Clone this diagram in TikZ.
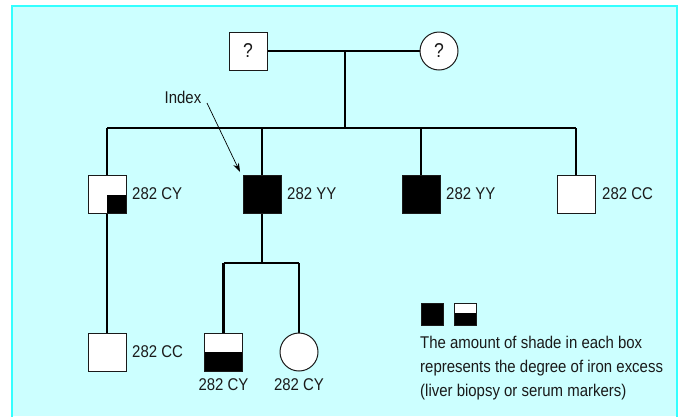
\documentclass[tikz,border=0pt]{standalone}
\usepackage{fontspec}
\setmainfont{Liberation Sans}[FakeStretch=0.88]
\usetikzlibrary{arrows.meta}
\definecolor{bgfill}{HTML}{CCFFFF}
\definecolor{bgedge}{HTML}{33FFFF}
\definecolor{ink}{HTML}{1A1A1A}
\begin{document}
\begin{tikzpicture}[x=1pt,y=-1pt,
  every node/.style={font=\fontsize{17}{24}\selectfont, text=ink},
  person/.style={draw=ink, line width=1pt, fill=white, inner sep=0pt},
  male/.style={person, rectangle, minimum size=38pt},
  female/.style={person, circle, minimum size=38pt},
  unknown/.style={font=\fontsize{20}{24}\selectfont},
  affected/.style={fill=black},
  quarter/.style={path picture={\fill[black] (path picture bounding box.center) rectangle (path picture bounding box.south east);}},
  halfshade/.style={path picture={\fill[black] (path picture bounding box.west) rectangle (path picture bounding box.south east);}},
  line/.style={draw=black, line width=2.6pt},
  lbl/.style={anchor=base west, inner sep=0pt},
  lblb/.style={anchor=base, inner sep=0pt}
]
\useasboundingbox (0,0) rectangle (682,416);
\fill[bgfill] (12,6) rectangle (677,416);
\draw[bgedge, line width=2pt] (12,417) -- (12,6) -- (677,6) -- (677,417);

% parents
\coordinate (pm) at (345,51);
\coordinate (sl) at (345,128);
\draw[line] (248,51) -- (439,51);
\draw[line] (pm) -- (sl);
\node[male, unknown] (fa) at (248,51) {?};
\node[female, unknown] (mo) at (439,51) {?};

% generation II
\coordinate (s1) at (107,128);
\coordinate (s2) at (262,128);
\coordinate (s3) at (421,128);
\coordinate (s4) at (576,128);
\coordinate (t0) at (262,263);
\coordinate (t1) at (223.5,263);
\coordinate (t2) at (299,263);
\draw[line] (s1) -- (s4);
\draw[line] (s1) -- (107,352);
\draw[line] (s2) -- (t0);
\draw[line] (s3) -- (421,194);
\draw[line] (s4) -- (576,194);
\draw[line] (t1) -- (t2);
\draw[line] (t1) -- (223.5,352);
\draw[line] (t2) -- (299,352);

\node[male, quarter] (c1) at (107,194.5) {};
\node[male, affected] (c2) at (262,194.5) {};
\node[male, affected] (c3) at (421,194.5) {};
\node[male] (c4) at (576,194.5) {};
\node[lbl] (l1) at (132,199) {282 CY};
\node[lbl] (l2) at (287,199) {282 YY};
\node[lbl] (l3) at (446,199) {282 YY};
\node[lbl] (l4) at (602,199) {282 CC};

% index
\node[anchor=base, inner sep=0pt] (idx) at (183,103) {Index};
\coordinate (idxs) at (207,103);
\coordinate (idxt) at (240,172);
\draw[black, line width=0.7pt, -{Stealth[length=9pt,width=6pt]}] (idxs) -- (idxt);

% generation III
\node[male] (g1) at (107,352) {};
\node[lbl] (gl1) at (132,357) {282 CC};
\node[male, halfshade] (g2) at (223.5,352) {};
\node[female] (g3) at (299,352) {};
\node[lblb] (gl2) at (223.5,390) {282 CY};
\node[lblb] (gl3) at (299,390) {282 CY};

% legend
\node[male, affected, minimum size=22pt] (k1) at (432,314) {};
\node[male, minimum size=22pt, path picture={\fill[black] ([yshift=1pt]path picture bounding box.west) rectangle (path picture bounding box.south east);}] (k2) at (465,314) {};
\node[anchor=base west, inner sep=0pt, align=left] (kt) at (420,396) {The amount of shade in each box\\represents the degree of iron excess\\(liver biopsy or serum markers)};
\end{tikzpicture}
\end{document}
